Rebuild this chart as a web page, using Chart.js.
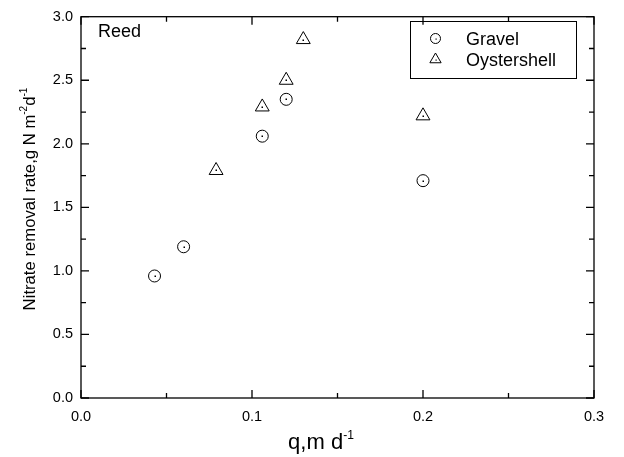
<!DOCTYPE html>
<html><head><meta charset="utf-8">
<script src="https://cdn.jsdelivr.net/npm/chart.js@4/dist/chart.umd.min.js"></script>
<style>html,body{margin:0;padding:0;background:#fff}#wrap{width:624px;height:457px;position:relative}</style>
</head><body><div id="wrap"><canvas id="c" width="624" height="457"></canvas></div>
<script>
const gravelQ = [0.043, 0.060, 0.106, 0.120, 0.200];
const gravelRate = [0.96, 1.19, 2.06, 2.35, 1.71];
const oysterQ = [0.079, 0.106, 0.120, 0.130, 0.200];
const oysterRate = [1.79, 2.29, 2.50, 2.82, 2.22];
const seriesNames = ['Gravel', 'Oystershell'];
const xMajorLabels = ['0.0', '0.1', '0.2', '0.3'];
const yMajorLabels = ['0.0', '0.5', '1.0', '1.5', '2.0', '2.5', '3.0'];
const FONT = '"Liberation Sans", Arial, sans-serif';

function toPts(xs, ys){ return xs.map((x,i)=>({x:x, y:ys[i]})); }

function richWidth(ctx, parts, size, supR){
  let w=0;
  for(const [t,sup] of parts){ ctx.font = (sup? size*supR : size)+'px '+FONT; w+=ctx.measureText(t).width; }
  return w;
}
function drawRich(ctx, parts, cx, baseY, size, supR){
  const w = richWidth(ctx, parts, size, supR);
  let x = cx - w/2;
  ctx.textBaseline='alphabetic'; ctx.textAlign='left';
  for(const [t,sup] of parts){
    ctx.font = (sup? size*supR : size)+'px '+FONT;
    ctx.fillText(t, x, sup ? baseY - size*0.45 : baseY);
    x += ctx.measureText(t).width;
  }
}
function marker(ctx, style, x, y, r){
  ctx.beginPath();
  if(style==='circle'){ ctx.arc(x,y,r,0,Math.PI*2); }
  else { for(let k=0;k<3;k++){ const a=k*2*Math.PI/3; const px=x+Math.sin(a)*r, py=y-Math.cos(a)*r; k?ctx.lineTo(px,py):ctx.moveTo(px,py);} ctx.closePath(); }
  ctx.stroke();
  ctx.fillRect(Math.round(x)-0.5, Math.round(y)-0.5, 1.2, 1.2);
}

const decor = {
  id:'decor',
  afterDatasetsDraw(chart){
    const ctx=chart.ctx, a=chart.chartArea, xs=chart.scales.x, ys=chart.scales.y;
    ctx.save();
    ctx.strokeStyle='#000'; ctx.fillStyle='#000'; ctx.lineWidth=1;
    chart.data.datasets.forEach((ds,i)=>{
      chart.getDatasetMeta(i).data.forEach(p=>{ ctx.fillRect(Math.round(p.x)-0.5, Math.round(p.y)-0.5, 1.5, 1.5); });
    });
    ctx.lineWidth=1.3;
    ctx.strokeRect(a.left, a.top, a.right-a.left, a.bottom-a.top);
    xs.ticks.forEach(t=>{
      const px=xs.getPixelForValue(t.value);
      const major = Math.abs(t.value*10 - Math.round(t.value*10))<1e-6;
      const L = major?8:5;
      ctx.beginPath(); ctx.moveTo(px,a.bottom); ctx.lineTo(px,a.bottom-L);
      ctx.moveTo(px,a.top); ctx.lineTo(px,a.top+L); ctx.stroke();
    });
    ys.ticks.forEach(t=>{
      const py=ys.getPixelForValue(t.value);
      const major = Math.abs(t.value*2 - Math.round(t.value*2))<1e-6;
      const L = major?8:5;
      ctx.beginPath(); ctx.moveTo(a.left,py); ctx.lineTo(a.left+L,py);
      ctx.moveTo(a.right,py); ctx.lineTo(a.right-L,py); ctx.stroke();
    });
    ctx.font='18px '+FONT; ctx.textAlign='left'; ctx.textBaseline='alphabetic';
    ctx.fillText('Reed', a.left+17, 37);
    ctx.lineWidth=1;
    ctx.strokeRect(410.5, 21.5, 166, 57);
    const styles=['circle','triangle'];
    seriesNames.forEach((n,i)=>{
      const y = 38.5 + i*21;
      marker(ctx, styles[i], 435.5, y, styles[i]==='circle'?5:6.5);
      ctx.font='18px '+FONT; ctx.textAlign='left'; ctx.textBaseline='alphabetic';
      ctx.fillText(n, 466, y+6.5);
    });
    drawRich(ctx, [['q,m d',false],['-1',true]], 321, 449, 22, 0.55);
    ctx.save();
    ctx.translate(35, 199);
    ctx.rotate(-Math.PI/2);
    drawRich(ctx, [['Nitrate removal rate,g N m',false],['-2',true],['d',false],['-1',true]], 0, 0, 16.7, 0.6);
    ctx.restore();
    ctx.restore();
  }
};

new Chart(document.getElementById('c'), {
  type:'scatter',
  data:{ datasets:[
    {label:seriesNames[0], data:toPts(gravelQ,gravelRate), pointStyle:'circle', pointRadius:6, pointHoverRadius:6,
     borderColor:'#000', backgroundColor:'rgba(0,0,0,0)', borderWidth:1},
    {label:seriesNames[1], data:toPts(oysterQ,oysterRate), pointStyle:'triangle', pointRadius:8, pointHoverRadius:8,
     borderColor:'#000', backgroundColor:'rgba(0,0,0,0)', borderWidth:1}
  ]},
  options:{
    responsive:false, animation:false, devicePixelRatio:1,
    layout:{padding:{left:0,right:30,top:12,bottom:0}},
    plugins:{legend:{display:false}, tooltip:{enabled:false}},
    scales:{
      x:{type:'linear', min:0, max:0.3,
         grid:{display:false, drawTicks:false}, border:{display:false},
         ticks:{stepSize:0.05, padding:10, color:'#000', font:{family:FONT,size:14.5}, maxRotation:0, autoSkip:false,
           callback:(v)=>{ const k=Math.round(v*20); return k%2===0 ? xMajorLabels[k/2] : ''; }},
         afterFit:(s)=>{ s.height=59; }},
      y:{type:'linear', min:0, max:3,
         grid:{display:false, drawTicks:false}, border:{display:false},
         ticks:{stepSize:0.25, padding:8, color:'#000', font:{family:FONT,size:14.5}, autoSkip:false,
           callback:(v)=>{ const k=Math.round(v*4); return k%2===0 ? yMajorLabels[k/2] : ''; }},
         afterFit:(s)=>{ s.width=81; }}
    }
  },
  plugins:[decor]
});
</script></body></html>
